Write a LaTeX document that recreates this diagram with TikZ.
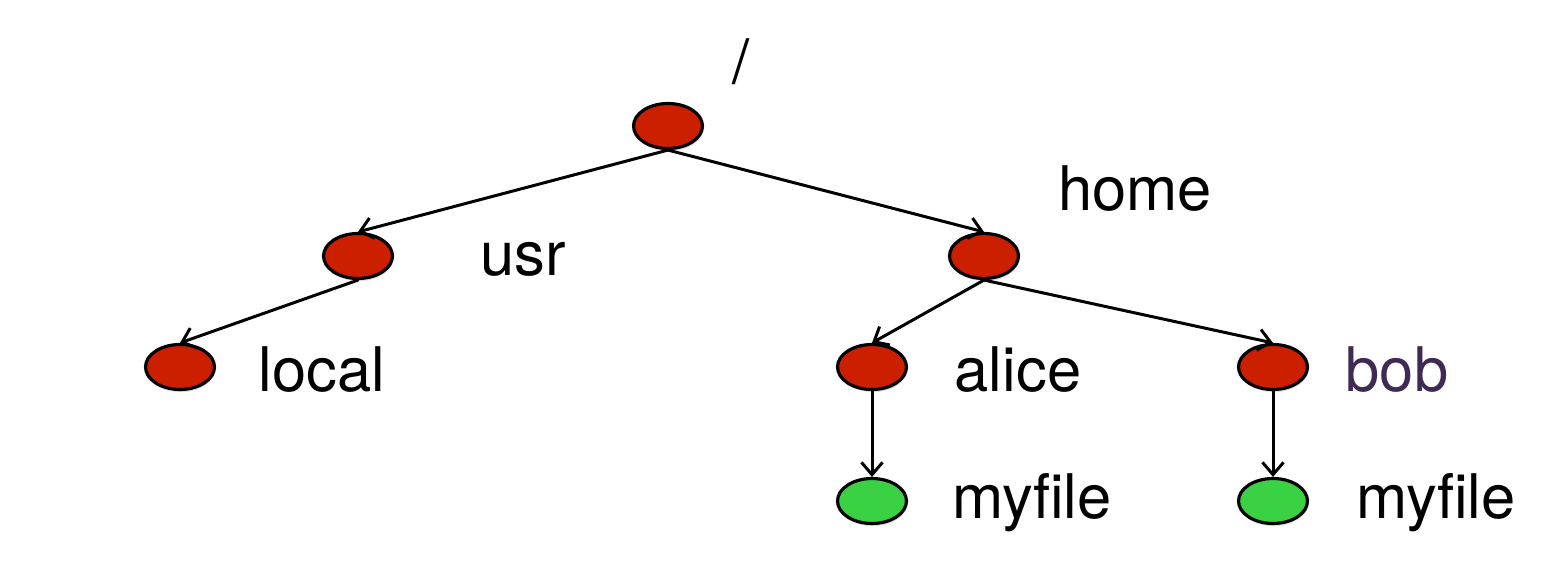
\documentclass[tikz,border=0pt]{standalone}
\usepackage{fontspec}
\setmainfont{TeX Gyre Heros}
\usetikzlibrary{shapes.geometric,arrows.meta,shadows}

\definecolor{dirfill}{HTML}{cc1f00}
\definecolor{filefill}{HTML}{3ad143}
\definecolor{bobtext}{HTML}{3f2a55}

\begin{document}
\begin{tikzpicture}[
  x=0.02cm, y=-0.02cm,
  line cap=round, line join=round,
  every node/.style={font=\fontsize{35}{40}\selectfont, inner sep=0pt},
  dir/.style={ellipse, draw=black, line width=1.8pt, fill=dirfill,
    minimum width=1.38cm, minimum height=0.9cm,
    drop shadow={shadow xshift=0.5pt, shadow yshift=-1.5pt, opacity=0.25}},
  file/.style={dir, fill=filefill},
  link/.style={draw=black, line width=1.7pt, -{Straight Barb[length=7pt,width=12pt,line width=1.7pt]}},
]
\useasboundingbox (0,0) rectangle (1563,588);
% directories
\node[dir] (root) at (668,126) {};
\node[dir] (usr) at (358,256) {};
\node[dir] (home) at (984,256) {};
\node[dir] (local) at (180,367) {};
\node[dir] (alice) at (872,367) {};
\node[dir] (bob) at (1273,367) {};
% files
\node[file] (alicefile) at (872,501) {};
\node[file] (bobfile) at (1273,501) {};
% names
\node (rootname) at (741,62) {/};
\node (usrname) at (523,259) {usr};
\node (homename) at (1135,189) {home};
\node (localname) at (322,370) {local};
\node (alicename) at (1018,370) {alice};
\node[text=bobtext] (bobname) at (1397,370) {bob};
\node (alicefilename) at (1032,503) {myfile};
\node (bobfilename) at (1436,503) {myfile};
% links
\draw[link] (root.south) -- (usr.north);
\draw[link] (root.south) -- (home.north);
\draw[link] (usr.south) -- (local.north);
\draw[link] (home.south) -- (alice.north);
\draw[link] (home.south) -- (bob.north);
\draw[link] (alice.south) -- (alicefile.north);
\draw[link] (bob.south) -- (bobfile.north);
\end{tikzpicture}
\end{document}
